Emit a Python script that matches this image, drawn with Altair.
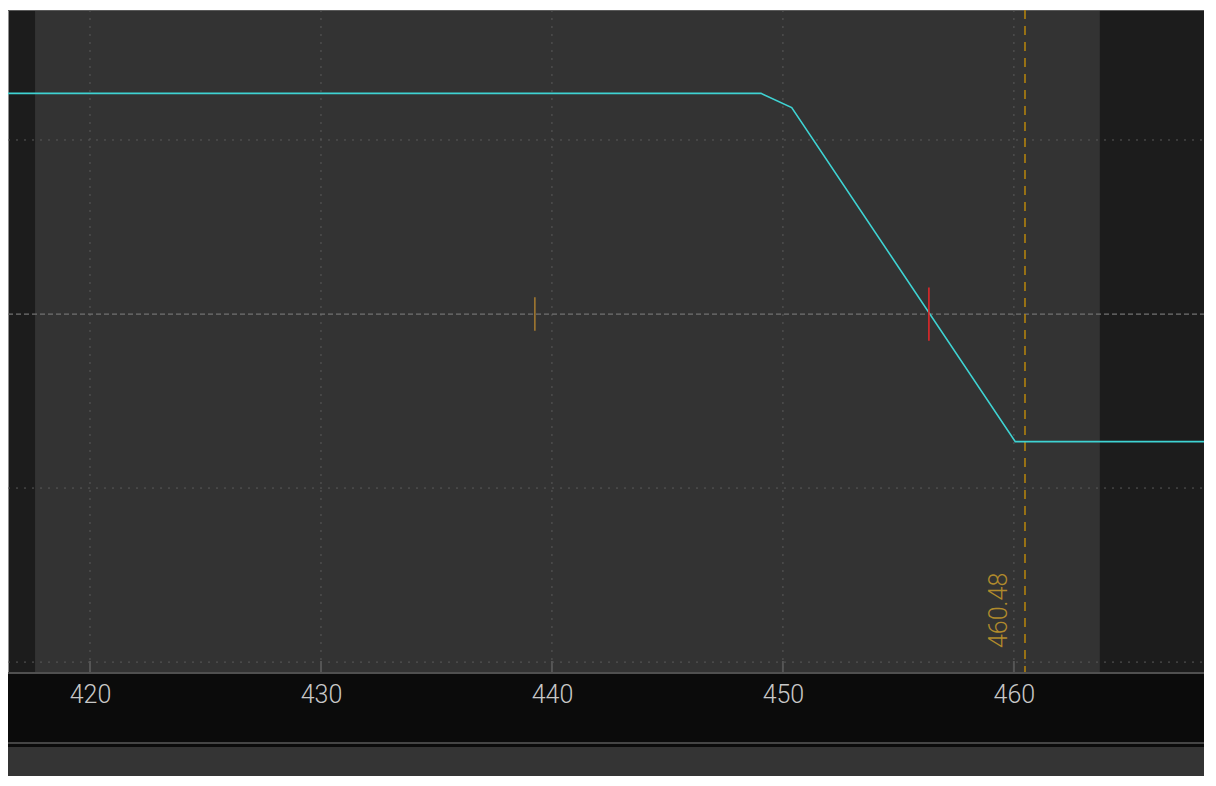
import altair as alt
import pandas as pd

# ---- data ----
X_TICKS = [420, 430, 440, 450, 460]
Y_GRID = [100, -100, -200]
ZERO_LINE = [0]
PAYOFF_X = [416.45, 449.05, 450.38, 460.06, 468.23]
PAYOFF_Y = [126.8, 126.8, 118.6, -73.3, -73.3]
DATA_RANGE = [417.62, 463.72]
BREAKEVEN_X = [456.32]
BREAKEVEN_HALF = [15.3]
SPOT_X = [439.26]
SPOT_HALF = [9.6]
LEVEL_X = [460.48]
LEVEL_LABEL = ["460.48"]

X_DOMAIN = [416.45, 468.23]
Y_DOMAIN = [-205.7, 174.7]

W, H = 1196, 662

xs = alt.Scale(domain=X_DOMAIN, nice=False, zero=False)
ys = alt.Scale(domain=Y_DOMAIN, nice=False, zero=False)

payoff = pd.DataFrame({"x": PAYOFF_X, "y": PAYOFF_Y})
ticks = pd.DataFrame({"x": X_TICKS})
grid_y = pd.DataFrame({"y": Y_GRID})
zero = pd.DataFrame({"y": ZERO_LINE})
rng = pd.DataFrame({"x": [DATA_RANGE[0]], "x2": [DATA_RANGE[1]]})
be = pd.DataFrame({"x": BREAKEVEN_X, "lo": [-h for h in BREAKEVEN_HALF], "hi": BREAKEVEN_HALF})
spot = pd.DataFrame({"x": SPOT_X, "lo": [-h for h in SPOT_HALF], "hi": SPOT_HALF})
level = pd.DataFrame({"x": LEVEL_X, "label": LEVEL_LABEL})

one = pd.DataFrame({"a": [0]})

# light data-range region
light = alt.Chart(rng).mark_rect(color="#333333").encode(
    x=alt.X("x:Q", scale=xs, axis=None), x2="x2:Q",
    y=alt.value(0), y2=alt.value(H),
)

# axis band below the plot
band_black = alt.Chart(one).mark_rect(color="#0b0b0b").encode(
    x=alt.value(0), x2=alt.value(W), y=alt.value(H), y2=alt.value(H + 75)
)
band_grey = alt.Chart(one).mark_rect(color="#343434").encode(
    x=alt.value(0), x2=alt.value(W), y=alt.value(H + 75), y2=alt.value(H + 104)
)
band_sep = alt.Chart(one).mark_rule(color="#454545", strokeWidth=2).encode(
    x=alt.value(0), x2=alt.value(W), y=alt.value(H + 71)
)
band_top = alt.Chart(one).mark_rule(color="#505050", strokeWidth=2).encode(
    x=alt.value(0), x2=alt.value(W), y=alt.value(H + 1)
)
top_line = alt.Chart(one).mark_rule(color="#5a5a5a", strokeWidth=1).encode(
    x=alt.value(0), x2=alt.value(W), y=alt.value(0.5)
)

# grid
hgrid = alt.Chart(grid_y).mark_rule(color="#5a5a5a", strokeWidth=1, strokeDash=[2, 6]).encode(
    y=alt.Y("y:Q", scale=ys, axis=None), x=alt.value(0), x2=alt.value(W)
)
zgrid = alt.Chart(zero).mark_rule(color="#727272", strokeWidth=1.2, strokeDash=[5, 3]).encode(
    y=alt.Y("y:Q", scale=ys, axis=None), x=alt.value(0), x2=alt.value(W)
)
vgrid = alt.Chart(ticks).mark_rule(color="#5a5a5a", strokeWidth=1, strokeDash=[2, 6]).encode(
    x=alt.X("x:Q", scale=xs, axis=None), y=alt.value(0), y2=alt.value(H)
)
vtick = alt.Chart(ticks).mark_rule(color="#555555", strokeWidth=2).encode(
    x=alt.X("x:Q", scale=xs, axis=None), y=alt.value(H - 11), y2=alt.value(H)
)

# level line
level_rule = alt.Chart(level).mark_rule(color="#b8860b", strokeWidth=1.5, strokeDash=[9, 7]).encode(
    x=alt.X("x:Q", scale=xs, axis=None), y=alt.value(0), y2=alt.value(H)
)
level_text = alt.Chart(level).mark_text(
    angle=270, align="left", baseline="alphabetic", dy=-18,
    fontSize=25, font="Roboto", fontWeight=300, color="#b08a2c",
).encode(
    x=alt.X("x:Q", scale=xs, axis=None), y=alt.value(H - 24), text="label:N"
)

# payoff line
line = alt.Chart(payoff).mark_line(color="#3fd3d3", strokeWidth=1.6).encode(
    x=alt.X("x:Q", scale=xs, axis=None), y=alt.Y("y:Q", scale=ys, axis=None)
)

be_mark = alt.Chart(be).mark_rule(color="#e0282a", strokeWidth=1.6).encode(
    x=alt.X("x:Q", scale=xs, axis=None), y=alt.Y("lo:Q", scale=ys, axis=None), y2="hi:Q"
)
spot_mark = alt.Chart(spot).mark_rule(color="#a07830", strokeWidth=1.6).encode(
    x=alt.X("x:Q", scale=xs, axis=None), y=alt.Y("lo:Q", scale=ys, axis=None), y2="hi:Q"
)

# tick labels, drawn as the real x axis on top of the dark band
axis_layer = alt.Chart(ticks).mark_point(opacity=0).encode(
    x=alt.X(
        "x:Q", scale=xs,
        axis=alt.Axis(
            values=X_TICKS, format="d", title=None, grid=False, domain=False, ticks=False,
            labelFontSize=25, labelFont="Roboto", labelFontWeight=300,
            labelColor="#c8c8c8", labelPadding=10, zindex=2, labelOverlap=False,
        ),
    ),
    y=alt.Y("x:Q", scale=ys, axis=None),
)

chart = alt.layer(
    light, band_black, band_grey, band_sep, band_top, top_line,
    hgrid, vgrid, vtick, zgrid,
    level_rule, level_text,
    line, be_mark, spot_mark,
    axis_layer,
).resolve_axis(x="independent").properties(
    width=W, height=H,
    autosize=alt.AutoSizeParams(type="none"),
    padding={"left": 0, "top": 2, "right": 0, "bottom": 104},
    background="white",
).configure_view(fill="#1c1c1c", stroke="transparent")

chart.save("out.html", embed_options={"renderer": "svg", "actions": False})
